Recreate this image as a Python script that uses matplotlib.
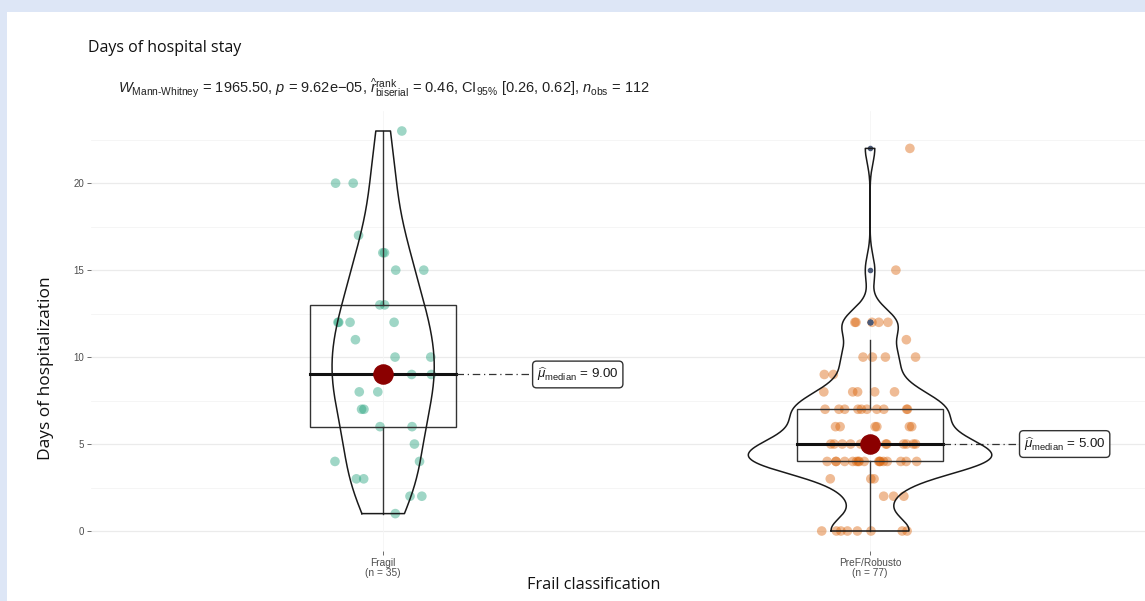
import numpy as np
import matplotlib
matplotlib.use("Agg")
import matplotlib.pyplot as plt
from matplotlib.patches import Rectangle

# ---------------- data ----------------
groups = ["Fragil", "PreF/Robusto"]
fragil_days = [1, 2, 2, 3, 3, 4, 4, 5, 6, 6, 7, 7, 8, 8, 9, 9, 9, 9, 10, 10,
               11, 12, 12, 12, 12, 13, 13, 15, 15, 16, 16, 17, 20, 20, 23]
pref_values = [0, 2, 3, 4, 5, 6, 7, 8, 9, 10, 11, 12, 15, 22]
pref_counts = [8, 3, 3, 17, 11, 6, 10, 5, 2, 4, 1, 5, 1, 1]
pref_days = np.repeat(pref_values, pref_counts)
title = "Days of hospital stay"
subtitle = (r"$\it{W}_{\mathrm{Mann" + "\u2010" + r"Whitney}}$ = 1965.50, $\it{p}$ = 9.62e$-$05, "
            r"$\widehat{\it{r}}_{\mathrm{biserial}}^{\mathrm{rank}}$ = 0.46, "
            r"CI$_{95\%}$ [0.26, 0.62], $\it{n}_{\mathrm{obs}}$ = 112")
xlabel = "Frail classification"
ylabel = "Days of hospitalization"
yticks = [0, 5, 10, 15, 20]
colors = ["#1B9E77", "#D95F02"]

plt.rcParams["mathtext.fontset"] = "custom"
plt.rcParams["mathtext.rm"] = "Liberation Sans"
plt.rcParams["mathtext.it"] = "Liberation Sans:italic"
plt.rcParams["mathtext.bf"] = "Liberation Sans:bold"

W, H = 1145, 601
fig = plt.figure(figsize=(W / 100, H / 100), dpi=100)
fig.patch.set_facecolor("#dde6f6")
# white panel
fig.patches.append(Rectangle((7 / W, 0), 1, 1 - 12 / H, transform=fig.transFigure,
                             facecolor="white", edgecolor="none", zorder=-10))

ax_left, ax_right = 91, 1145
ax_top, ax_bot = 111, 551
ax = fig.add_axes([ax_left / W, 1 - ax_bot / H, (ax_right - ax_left) / W, (ax_bot - ax_top) / H])
ax.set_zorder(1)
ax.set_facecolor("none")
xmax = 1 + (ax_right - 383) / 487
ax.set_xlim(0.4, xmax)
ax.set_ylim(-1.15, 24.15)

for s in ax.spines.values():
    s.set_visible(False)
for y in yticks:
    ax.axhline(y, color="#ebebeb", lw=0.9, zorder=0)
for y in np.arange(2.5, 24, 5):
    ax.axhline(y, color="#f4f4f4", lw=0.6, zorder=0)
for xx in [1, 2]:
    ax.axvline(xx, color="#f5f5f5", lw=0.6, zorder=0)

def kde(data, grid):
    data = np.asarray(data, float)
    n = len(data)
    q75, q25 = np.percentile(data, [75, 25])
    bw = 0.9 * min(np.std(data, ddof=1), (q75 - q25) / 1.34) * n ** (-0.2)
    z = (grid[:, None] - data[None, :]) / bw
    return np.exp(-0.5 * z ** 2).sum(1) / (n * bw * np.sqrt(2 * np.pi))

datasets = [np.asarray(fragil_days, float), np.asarray(pref_days, float)]
grids = [np.linspace(d.min(), d.max(), 512) for d in datasets]
dens = [kde(d, g) for d, g in zip(datasets, grids)]
dmax = max(d.max() for d in dens)

rng = np.random.default_rng(7)
for i, (d, g, de, c) in enumerate(zip(datasets, grids, dens, colors)):
    x0 = i + 1
    # jittered points
    jx = x0 + rng.uniform(-0.1, 0.1, len(d))
    ax.scatter(jx, d, s=48, color=c, alpha=0.42, edgecolors="none", zorder=2)
    # box
    q1, med, q3 = np.percentile(d, [25, 50, 75])
    iqr = q3 - q1
    lo = d[d >= q1 - 1.5 * iqr].min()
    hi = d[d <= q3 + 1.5 * iqr].max()
    bw_ = 0.15
    ax.add_patch(Rectangle((x0 - bw_, q1), 2 * bw_, q3 - q1, facecolor="none",
                           edgecolor="#333333", lw=1.0, zorder=3))
    ax.plot([x0 - bw_, x0 + bw_], [med, med], color="#111111", lw=2.2, zorder=3)
    ax.plot([x0, x0], [q3, hi], color="#333333", lw=1.0, zorder=3)
    ax.plot([x0, x0], [lo, q1], color="#333333", lw=1.0, zorder=3)
    out = d[(d < lo) | (d > hi)]
    ax.scatter(np.full(len(out), x0), out, s=9, color="#4b5a78", zorder=3)
    # violin
    w = de / dmax * 0.25
    vx = np.concatenate([x0 - w, (x0 + w)[::-1], [x0 - w[0]]])
    vy = np.concatenate([g, g[::-1], [g[0]]])
    ax.plot(vx, vy, color="#1a1a1a", lw=1.1, zorder=4)
    # median dot
    ax.scatter([x0], [med], s=190, color="#8B0000", zorder=5)
    # label
    lx = x0 + 0.305
    ax.plot([x0 + bw_, lx], [med, med], color="#333333", lw=0.9,
            ls=(0, (6, 3, 1, 3)), zorder=3)
    ax.text(lx + 0.011, med, r"$\widehat{\mu}_{\mathrm{median}}$" + " = %.2f" % med,
            ha="left", va="center", fontsize=9.6, family="Liberation Sans",
            color="#1a1a1a", zorder=6,
            bbox=dict(boxstyle="round,pad=0.33,rounding_size=0.3",
                      facecolor="white", edgecolor="#333333", lw=1.0))

ax.set_yticks(yticks)
ax.set_yticklabels([str(v) for v in yticks], fontsize=7, color="#4d4d4d",
                   family="Liberation Sans")
ax.set_xticks([1, 2])
ax.set_xticklabels(["%s\n(n = %d)" % (g_, len(d)) for g_, d in zip(groups, datasets)],
                   fontsize=7.3, color="#4d4d4d", family="Liberation Sans", linespacing=1.05)
ax.tick_params(axis="both", length=3, width=0.6, color="#555555", pad=2)

fig.text(88 / W, 1 - 48 / H, title, fontsize=11.5, family="Open Sans",
         ha="left", va="center", color="#111111")
fig.text(118 / W, 1 - 88 / H, subtitle, fontsize=10.5, family="Liberation Sans",
         ha="left", va="center", color="#222222")
fig.text(594 / W, 1 - 585 / H, xlabel, fontsize=11.7, family="Open Sans",
         ha="center", va="center", color="#111111")
fig.text(46 / W, 1 - 368 / H, ylabel, fontsize=12.5, family="Open Sans",
         ha="center", va="center", rotation=90, color="#111111")

fig.savefig("out.png", dpi=100)
